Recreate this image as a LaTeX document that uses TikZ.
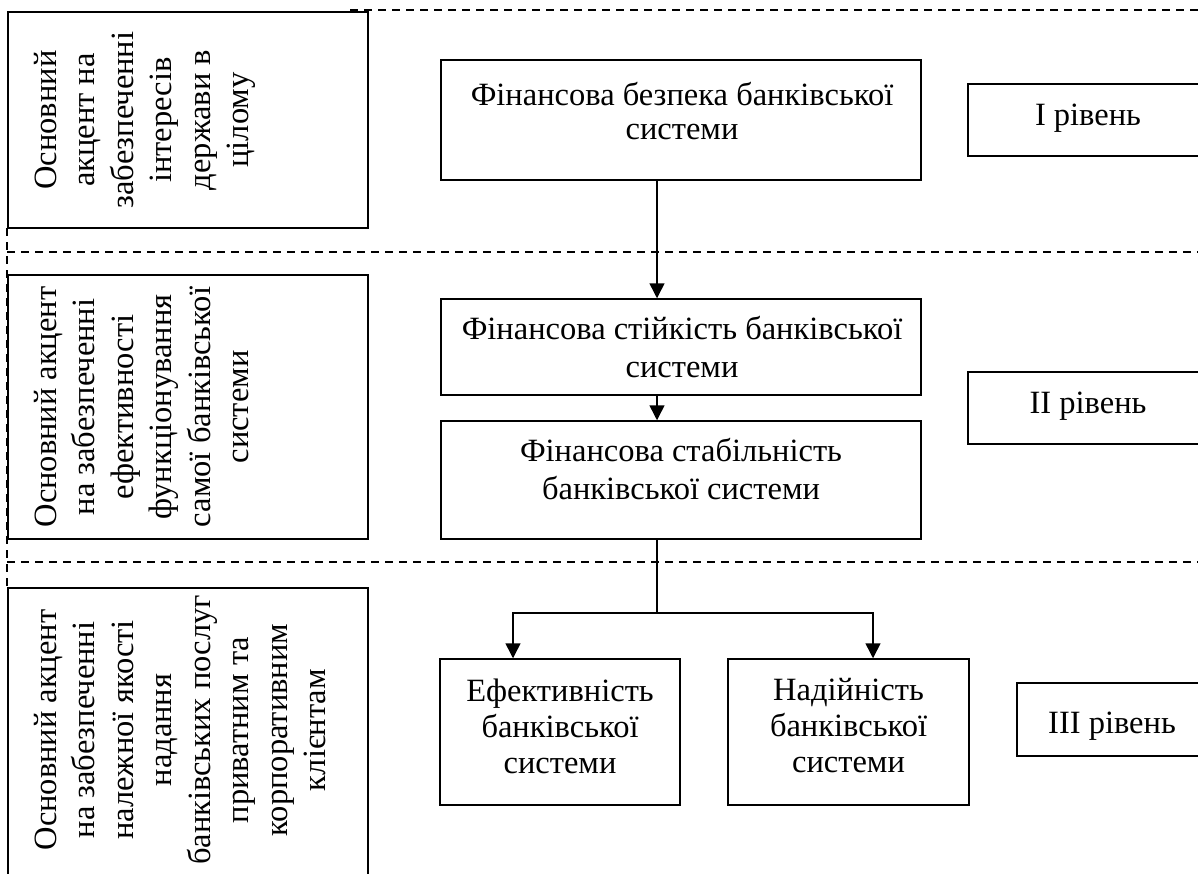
\documentclass[tikz,border=0pt]{standalone}
\usepackage{fontspec}
\setmainfont{Liberation Serif}
\usetikzlibrary{arrows.meta}

\tikzset{
  box/.style={draw, line width=1.5pt, inner sep=0pt, minimum width=#1},
  box/.default=480pt,
  txt/.style={inner sep=0pt, align=center, font=\fontsize{32.5}{#1}\selectfont},
  txt/.default=36,
  sidetxt/.style={inner sep=0pt, align=center, rotate=90, anchor=north,
    font=\fontsize{32.5}{38.5}\selectfont},
  guide/.style={line width=1.5pt, dash pattern=on 8pt off 6pt},
  arr/.style={line width=1.5pt, -{Triangle[width=15pt,length=15pt]}},
  link/.style={line width=1.5pt}
}

\begin{document}
\begin{tikzpicture}[x=1pt, y=-1pt]
  \useasboundingbox (0,0) rectangle (1198,873);
  \clip (0,0) rectangle (1198,873);

  % level separators
  \draw[guide] (350,10) -- (1198,10);
  \draw[guide] (7,252) -- (1198,252);
  \draw[guide] (7,562) -- (1198,562);
  \draw[guide] (7,228) -- (7,588);

  % left column: what each level focuses on
  \node[box=360pt, minimum height=216pt] (L1) at (188,120) {};
  \node[box=360pt, minimum height=264pt] (L2) at (188,407) {};
  \node[box=360pt, minimum height=302pt] (L3) at (188,739) {};
  \node[sidetxt] (L1t) at (34,120) {Основний\\акцент на\\забезпеченні\\інтересів\\держави в\\цілому};
  \node[sidetxt] (L2t) at (34,407) {Основний акцент\\на забезпеченні\\ефективності\\функціонування\\самої банківської\\системи};
  \node[sidetxt] (L3t) at (34,730) {Основний акцент\\на забезпеченні\\належної якості\\надання\\банківських послуг\\приватним та\\корпоративним\\клієнтам};

  % central hierarchy
  \node[box, minimum height=120pt] (A) at (681,120) {};
  \node[box, minimum height=96pt]  (B) at (681,347) {};
  \node[box, minimum height=118pt] (C) at (681,480) {};
  \node[box=240pt, minimum height=146pt] (D) at (560,732) {};
  \node[box=241pt, minimum height=146pt] (E) at (848.5,732) {};

  \node[txt=34] (At) at (682,111) {Фінансова безпека банківської\\системи};
  \node[txt=38] (Bt) at (682,347) {Фінансова стійкість банківської\\системи};
  \node[txt=38] (Ct) at (681,469) {Фінансова стабільність\\банківської системи};
  \node[txt=36] (Dt) at (560,726) {Ефективність\\банківської\\системи};
  \node[txt=36] (Et) at (848.5,726) {Надійність\\банківської\\системи};

  % right column: level labels
  \node[box=240pt, minimum height=72pt] (R1) at (1088,120) {};
  \node[box=240pt, minimum height=72pt] (R2) at (1088,408) {};
  \node[box=190pt, minimum height=73pt] (R3) at (1112,719.5) {};
  \node[txt, anchor=base] (R1t) at (1088,125) {I рівень};
  \node[txt, anchor=base] (R2t) at (1088,413) {II рівень};
  \node[txt, anchor=base] (R3t) at (1112,733) {III рівень};

  % connectors
  \draw[arr] ([xshift=-24pt]A.south) -- ([xshift=-24pt]B.north);
  \draw[arr] ([xshift=-24pt]B.south) -- ([xshift=-24pt]C.north);
  \draw[link] ([xshift=-24pt]C.south) -- ++(0,73) coordinate (fork);
  \draw[arr] (fork) -| ([xshift=-47pt]D.north);
  \draw[arr] (fork) -| ([xshift=24.5pt]E.north);
\end{tikzpicture}
\end{document}
